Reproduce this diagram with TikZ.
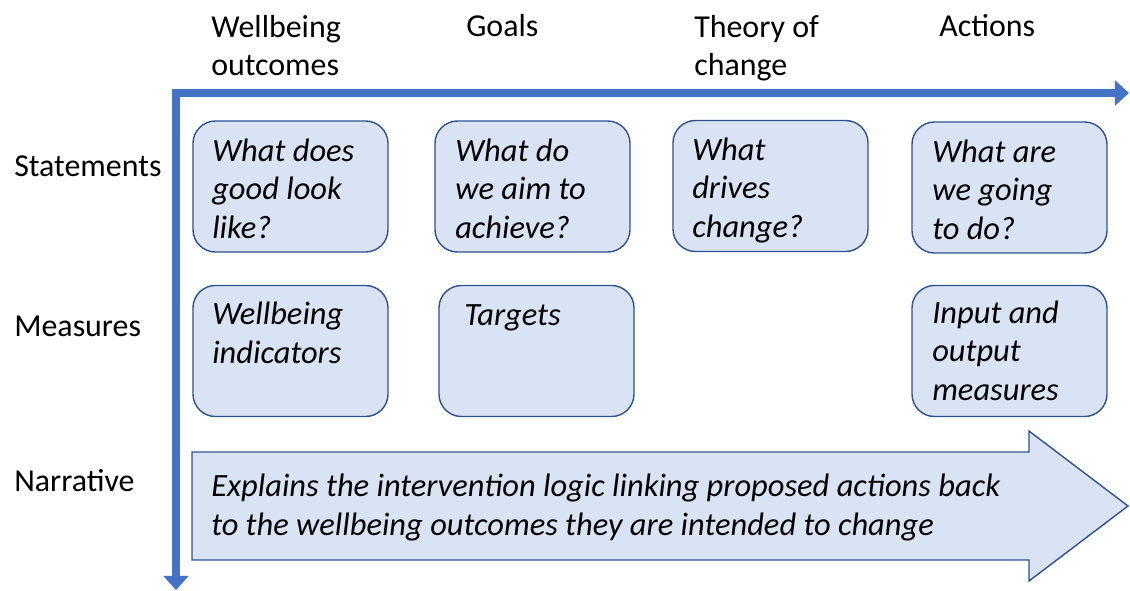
\documentclass[tikz,border=0pt]{standalone}
\usepackage{fontspec}
\setmainfont{Carlito}
\usetikzlibrary{arrows.meta}
\definecolor{axisblue}{HTML}{4472C4}
\definecolor{cellfill}{HTML}{DAE3F3}
\definecolor{celldraw}{HTML}{2F528F}

\begin{document}
\begin{tikzpicture}[
  x=0.025cm, y=-0.025cm,
  font=\fontsize{22.7}{27.4}\selectfont,
  axis/.style={draw=axisblue, line width=5pt, arrows={Triangle[length=10pt, width=17.5pt]-Triangle[length=10pt, width=17.5pt]}},
  cell/.style={draw=celldraw, line width=1pt, fill=cellfill, rounded corners=16pt, minimum width=4.875cm, minimum height=3.275cm},
  celltext/.style={anchor=base west, align=left, inner sep=0pt, font=\fontsize{23.1}{27.3}\selectfont\itshape},
  head/.style={anchor=base west, align=left, inner sep=0pt},
  rowlabel/.style={anchor=base west, inner sep=0pt}
  ]
  \useasboundingbox (0,0) rectangle (1130,591);

  \node[head] (hwell) at (211,76) {Wellbeing\\outcomes};
  \node[head] (hgoal) at (466,37) {Goals};
  \node[head] (htoc) at (694,76) {Theory of\\change};
  \node[head] (hact) at (939,37) {Actions};

  \node[rowlabel] (rstat) at (14,176) {Statements};
  \node[rowlabel] (rmeas) at (14,336) {Measures};
  \node[rowlabel] (rnarr) at (14,491) {Narrative};

  \coordinate (origin) at (176,93);
  \coordinate (xend) at (1129,93);
  \coordinate (yend) at (176,590);
  \draw[axis] (yend) -- (origin) -- (xend);

  \node[cell] (look) at (290.5,186.5) {};
  \node[cell] (aim) at (532.5,186.5) {};
  \node[cell] (drive) at (770.5,186) {};
  \node[cell] (todo) at (1009.5,187.5) {};
  \node[cell] (indic) at (290.5,351) {};
  \node[cell] (targ) at (536.5,351) {};
  \node[cell] (meas) at (1009.5,351) {};

  \node[celltext] (tlook) at (212,238) {What does\\good look\\like?};
  \node[celltext] (taim) at (455,238) {What do\\we aim to\\achieve?};
  \node[celltext] (tdrive) at (692,237) {What\\drives\\change?};
  \node[celltext] (ttodo) at (932,239) {What are\\we going\\to do?};
  \node[celltext] (tindic) at (212,363) {Wellbeing\\indicators};
  \node[celltext] (ttarg) at (464,325) {Targets};
  \node[celltext] (tmeas) at (932,400) {Input and\\output\\measures};

  \draw[draw=celldraw, line width=1pt, fill=cellfill]
    (192,452) -- (1029,452) -- (1029,431) -- (1128,506) -- (1029,581)
    -- (1029,560) -- (192,560) -- cycle;
  \node[celltext] (story) at (211,535) {Explains the intervention logic linking proposed actions back\\to the wellbeing outcomes they are intended to change};
\end{tikzpicture}
\end{document}
